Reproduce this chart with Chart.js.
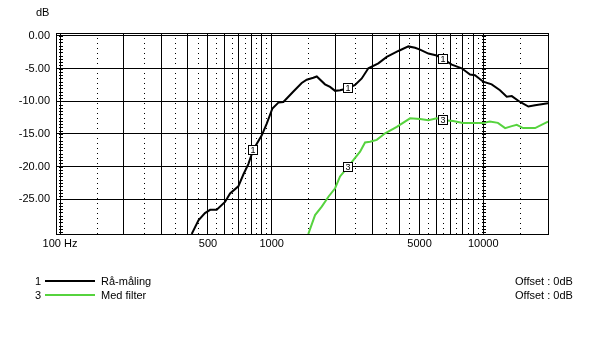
<!DOCTYPE html>
<html>
<head>
<meta charset="utf-8">
<script src="https://cdn.jsdelivr.net/npm/chart.js@4"></script>
<style>
body { margin: 0; background: #fff; font-family: "Liberation Sans", Arial, sans-serif; font-size: 11px; color: #000; }
#wrap { position: relative; width: 602px; height: 363px; }
#c { position: absolute; left: 0; top: 0; }
.t { position: absolute; line-height: 12px; white-space: nowrap; }
.ln { position: absolute; height: 2px; }
</style>
</head>
<body>
<div id="wrap">
  <canvas id="c" width="602" height="363"></canvas>
  <div class="t" style="left:36px;top:6px">dB</div>
  <div class="t" style="left:35px;top:275px">1</div>
  <div class="ln" style="left:45px;top:280px;width:50px;background:#000"></div>
  <div class="t" style="left:101px;top:275px">Rå-måling</div>
  <div class="t" style="left:35px;top:289px">3</div>
  <div class="ln" style="left:45px;top:294px;width:50px;background:#56d33e"></div>
  <div class="t" style="left:101px;top:289px">Med filter</div>
  <div class="t" style="left:515px;top:275px">Offset : 0dB</div>
  <div class="t" style="left:515px;top:289px">Offset : 0dB</div>
</div>
<script>
// ----- Data
const freqRaw = [419, 451, 484, 512, 550, 602, 636, 696, 735, 776, 819, 898, 948, 1008, 1076, 1136, 1267, 1387, 1465, 1574, 1634, 1787, 1888, 1995, 2105, 2300, 2478, 2666, 2864, 3193, 3499, 3971, 4428, 4763, 5026, 5505, 6030, 6500, 7100, 7910, 8660, 9140, 10000, 10960, 12000, 12910, 13640, 14930, 16340, 17580, 20230];
const dbRaw = [-30.3, -28.2, -27.1, -26.6, -26.6, -25.4, -24.1, -23.0, -21.2, -19.6, -17.4, -15.2, -13.4, -11.1, -10.2, -10.1, -8.5, -7.2, -6.7, -6.4, -6.2, -7.4, -7.8, -8.4, -8.3, -8.0, -7.5, -6.5, -4.95, -4.2, -3.2, -2.3, -1.6, -1.8, -2.1, -2.7, -3.0, -3.6, -4.4, -4.95, -5.9, -6.0, -7.0, -7.4, -8.3, -9.3, -9.2, -10.1, -10.8, -10.6, -10.3];

const freqFilter = [1490, 1604, 1725, 1855, 1995, 2105, 2300, 2432, 2617, 2763, 2917, 3139, 3437, 3902, 4510, 5026, 5505, 6030, 6500, 7210, 8000, 8950, 10000, 10740, 11730, 12690, 13640, 14400, 15420, 17580, 20230];
const dbFilter = [-30.3, -27.4, -26.1, -24.6, -23.3, -21.5, -20.0, -19.0, -17.7, -16.3, -16.2, -15.9, -14.9, -13.9, -12.6, -12.7, -12.9, -12.6, -12.9, -13.0, -13.3, -13.3, -13.3, -13.1, -13.3, -14.1, -13.8, -13.6, -14.1, -14.1, -13.1];

const markerFreqs = [817, 2300, 6480];

const xMajor = [100, 200, 300, 400, 500, 600, 700, 800, 900, 1000, 2000, 3000, 4000, 5000, 6000, 7000, 8000, 9000, 10000];
const xMinor = [150, 250, 350, 450, 550, 650, 750, 850, 950, 1500, 2500, 3500, 4500, 5500, 6500, 7500, 8500, 9500, 15000];
const xLabels = { 100: '100 Hz', 500: '500', 1000: '1000', 5000: '5000', 10000: '10000' };
const yTicks = [-25, -20, -15, -10, -5, 0];

const FONT = '"Liberation Sans", Arial, sans-serif';
const GREEN = '#56d33e';

function toXY(fs, ds) { return fs.map((f, i) => ({ x: f, y: ds[i] })); }

// value at f by interpolation in log-frequency
function valueAt(fs, ds, f) {
    for (let i = 0; i < fs.length - 1; i++) {
        if (f >= fs[i] && f <= fs[i + 1]) {
            const t = (Math.log(f) - Math.log(fs[i])) / (Math.log(fs[i + 1]) - Math.log(fs[i]));
            return ds[i] + t * (ds[i + 1] - ds[i]);
        }
    }
    return null;
}

// frame + little dB ticks on the 100 Hz and 10 kHz lines
const framePlugin = {
    id: 'frame',
    afterDatasetsDraw(chart) {
        const { ctx, chartArea: a, scales } = chart;
        ctx.save();
        ctx.strokeStyle = '#000';
        ctx.lineWidth = 1;
        ctx.strokeRect(Math.round(a.left) + 0.5, Math.round(a.top) + 0.5, Math.round(a.right - a.left), Math.round(a.bottom - a.top));
        ctx.beginPath();
        [100, 10000].forEach(f => {
            const x = Math.round(scales.x.getPixelForValue(f));
            for (let v = -30; v <= 0; v += 0.5) {
                const y = Math.round(scales.y.getPixelForValue(v)) + 0.5;
                ctx.moveTo(x - 1, y); ctx.lineTo(x + 3, y);
            }
        });
        ctx.stroke();

        // numbered boxes on the curves
        const sets = [[freqRaw, dbRaw, '1'], [freqFilter, dbFilter, '3']];
        ctx.font = '9px ' + FONT;
        ctx.textAlign = 'center';
        ctx.textBaseline = 'middle';
        sets.forEach(([fs, ds, label]) => {
            markerFreqs.forEach(f => {
                const v = valueAt(fs, ds, f);
                if (v === null) return;
                const x = Math.round(scales.x.getPixelForValue(f));
                const y = Math.round(scales.y.getPixelForValue(v));
                ctx.fillStyle = '#fff';
                ctx.fillRect(x - 5, y - 5, 10, 10);
                ctx.strokeStyle = '#000';
                ctx.strokeRect(x - 4.5, y - 4.5, 9, 9);
                ctx.fillStyle = '#000';
                ctx.fillText(label, x, y + 0.5);
            });
        });
        ctx.restore();
    }
};

new Chart(document.getElementById('c'), {
    type: 'line',
    data: {
        datasets: [
            { label: 'Rå-måling', data: toXY(freqRaw, dbRaw), borderColor: '#000', borderWidth: 2, pointRadius: 0, tension: 0, fill: false, clip: 0 },
            { label: 'Med filter', data: toXY(freqFilter, dbFilter), borderColor: GREEN, borderWidth: 2, pointRadius: 0, tension: 0, fill: false, clip: 0 }
        ]
    },
    options: {
        responsive: false,
        animation: false,
        devicePixelRatio: 1,
        layout: { padding: { top: 33, right: 54, left: 0, bottom: 0 } },
        plugins: { legend: { display: false }, tooltip: { enabled: false } },
        scales: {
            x: {
                type: 'logarithmic',
                min: 95.7, max: 20230,
                afterBuildTicks: s => { s.ticks = xMajor.concat(xMinor).map(v => ({ value: v })); },
                afterFit: s => { s.height = 129; },
                grid: { color: '#000', lineWidth: 1, drawTicks: false },
                border: { display: false, dash: c => (c.tick && xMinor.includes(c.tick.value)) ? [1, 4] : [] },
                ticks: {
                    autoSkip: false, maxRotation: 0, padding: 3, color: '#000',
                    font: { family: FONT, size: 11 },
                    callback: v => xLabels[v] || ''
                }
            },
            y: {
                min: -30.3, max: 0.45,
                afterBuildTicks: s => { s.ticks = yTicks.map(v => ({ value: v })); },
                afterFit: s => { s.width = 56; },
                grid: { color: '#000', lineWidth: 1, drawTicks: false },
                border: { display: false },
                ticks: {
                    padding: 6, color: '#000',
                    font: { family: FONT, size: 11 },
                    callback: v => v.toFixed(2)
                }
            }
        }
    },
    plugins: [framePlugin]
});
</script>
</body>
</html>
